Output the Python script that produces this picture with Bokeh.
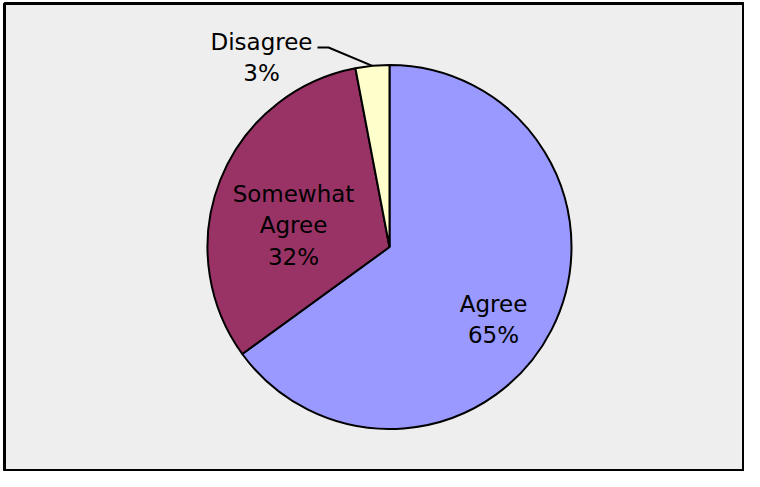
import math
from bokeh.plotting import figure
from bokeh.models import ColumnDataSource, Range1d
from bokeh.core.properties import value
from bokeh.embed import file_html
from bokeh.resources import INLINE

# ---- data ----
categories = ["Agree", "Somewhat Agree", "Disagree"]
percents = [65, 32, 3]
label_texts = ["Agree\n65%", "Somewhat\nAgree\n32%", "Disagree\n3%"]
colors = ["#9999FF", "#993366", "#FFFFCC"]

# ---- layout ----
W, H = 744, 471
LEFT, TOP = 4, 3
cx, cy = 389, H - 246.5     # pie centre (data units = pixels)
R = 182

total = sum(percents)
starts, ends, mids = [], [], []
acc = 0.0
for v in percents:
    a0 = math.pi / 2 - 2 * math.pi * acc / total
    acc += v
    a1 = math.pi / 2 - 2 * math.pi * acc / total
    starts.append(a0)
    ends.append(a1)
    mids.append((a0 + a1) / 2)

p = figure(width=W, height=H, output_backend="svg", toolbar_location=None,
           x_range=Range1d(LEFT, W), y_range=Range1d(0, H - TOP),
           min_border_left=LEFT, min_border_top=TOP,
           min_border_right=0, min_border_bottom=0)
p.axis.visible = False
p.grid.visible = False
p.background_fill_color = "#EEEEEE"
p.border_fill_color = "white"
p.outline_line_color = "black"
p.outline_line_width = 3

src = ColumnDataSource(dict(start=starts, end=ends, color=colors, cat=categories))
p.wedge(x=cx, y=cy, radius=R, start_angle="start", end_angle="end",
        direction="clock", fill_color="color", line_color="black",
        line_width=2, source=src)

# label offsets from the centre (x right, y up)
offsets = [(104, -72.5), (-96, 21.5), (-128, 189.5)]
lx = [cx + dx for dx, dy in offsets]
ly = [cy + dy for dx, dy in offsets]
p.text(x=lx, y=ly, text=label_texts, text_align="center", text_baseline="middle",
       text_font=value("DejaVu Sans"), text_font_size="23px",
       text_line_height=1.2, text_color="black")

# leader line for the small slice
m = mids[2]
ex, ey = cx + R * math.cos(m), cy + R * math.sin(m)
p.line(x=[cx - 72, cx - 61, ex], y=[cy + 199.5, cy + 199.5, ey],
       line_color="black", line_width=2)

open("out.html", "w").write(file_html(p, INLINE))
